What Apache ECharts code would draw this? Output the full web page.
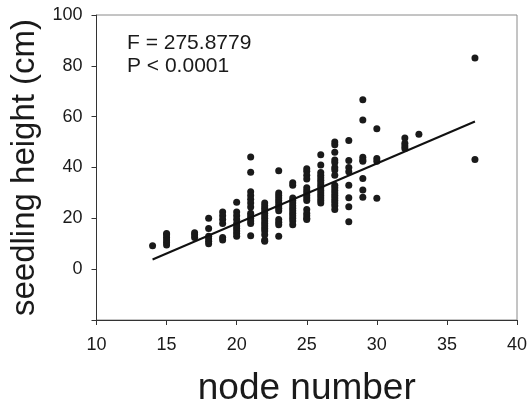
<!DOCTYPE html>
<html>
<head>
<meta charset="utf-8">
<script src="https://cdn.jsdelivr.net/npm/echarts@6/dist/echarts.min.js"></script>
<style>html,body{margin:0;padding:0;background:#fff}#c{width:528px;height:404px}</style>
</head>
<body>
<div id="c"></div>
<script>
// node numbers (x) and the seedling heights observed at each
const nodeNumbers = [14, 15, 17, 18, 19, 20, 21, 22, 23, 24, 25, 26, 27, 28, 29, 30, 32, 33, 37];
const heights14 = [9.2];
const heights15 = [9.5, 10.5, 11.5, 12.5, 13.5, 14];
const heights17 = [12.5, 13.5, 14.3];
const heights18 = [20, 16, 13, 12, 11, 10];
const heights19 = [22.5, 21, 19.5, 18, 12.5, 11.5];
const heights20 = [26.3, 22.5, 21, 19.5, 18, 17, 16, 15, 14, 13];
const heights21 = [44.1, 38.1, 30.5, 29, 27.5, 26, 24.5, 22, 21, 20, 19, 18, 13.1];
const heights22 = [26, 25, 24, 23, 22, 21, 20, 19, 18, 17, 16, 15, 13.5, 11.5, 11];
const heights23 = [38.7, 30, 29, 28, 27, 26, 25, 24, 23, 19.5, 18.5, 17.5, 13];
const heights24 = [34, 33, 28, 27, 26, 25, 24, 23, 22, 21, 20, 19, 17.5];
const heights25 = [39.5, 38.5, 37, 35.5, 32, 31, 30, 29, 28, 27, 23.5, 22, 21, 20, 19.5];
const heights26 = [45, 41, 38, 37, 36, 35, 34, 33, 32, 31, 30, 29, 28, 27, 26];
const heights27 = [50, 49, 46, 43, 42, 40, 39, 37, 33, 32, 31, 30, 29, 28, 27, 26, 25, 23.5];
const heights28 = [50.6, 42.8, 40, 38.3, 33, 28.1, 24.6, 18.7];
const heights29 = [66.7, 58.7, 44, 43, 42.5, 35.7, 31.1, 28.3];
const heights30 = [55.2, 43.5, 42.5, 27.9];
const heights32 = [51.6, 49.5, 48.5, 47.5];
const heights33 = [53.1];
const heights37 = [83.1, 43.1];
const heightsByNode = [heights14, heights15, heights17, heights18, heights19, heights20, heights21,
  heights22, heights23, heights24, heights25, heights26, heights27, heights28, heights29,
  heights30, heights32, heights33, heights37];

// fitted regression line end points
const fitNodes = [14, 37];
const fitHeights = [3.8, 58.1];

// tick values
const xTicks = [10, 15, 20, 25, 30, 35, 40];
const yTicks = [-20, 0, 20, 40, 60, 80, 100];

const statLines = ['F = 275.8779', 'P < 0.0001'];

const points = [];
nodeNumbers.forEach((n, i) => heightsByNode[i].forEach(h => points.push([n, h])));
const fitLine = fitNodes.map((n, i) => [n, fitHeights[i]]);

const chart = echarts.init(document.getElementById('c'), null, {renderer: 'canvas'});
const FONT = 'Liberation Sans, Arial, sans-serif';
chart.setOption({
  animation: false,
  backgroundColor: '#fff',
  grid: {left: 96.5, right: 11, top: 15, bottom: 84, containLabel: false, outerBoundsMode: 'none',
    show: true, borderColor: '#8a8a8a', borderWidth: 1, backgroundColor: 'transparent'},
  xAxis: {
    type: 'value', min: xTicks[0], max: xTicks[xTicks.length - 1], interval: 5,
    name: 'node number', nameLocation: 'middle', nameGap: 50,
    nameTextStyle: {fontFamily: FONT, fontSize: 37, color: '#1a1a1a'},
    axisLine: {show: true, onZero: false, lineStyle: {color: '#333', width: 1}},
    axisTick: {show: true, inside: false, length: 5, lineStyle: {color: '#333'}},
    axisLabel: {fontFamily: FONT, fontSize: 18, color: '#1a1a1a', margin: 16},
    splitLine: {show: false}
  },
  yAxis: {
    type: 'value', min: yTicks[0], max: yTicks[yTicks.length - 1], interval: 20,
    name: 'seedling height (cm)', nameLocation: 'middle', nameGap: 50,
    nameTextStyle: {fontFamily: FONT, fontSize: 33, color: '#1a1a1a'},
    axisLine: {show: true, onZero: false, lineStyle: {color: '#333', width: 1}},
    axisTick: {show: true, inside: false, length: 5, lineStyle: {color: '#333'}},
    axisLabel: {fontFamily: FONT, fontSize: 18, color: '#1a1a1a', margin: 14,
      formatter: v => (v === yTicks[0] ? '' : String(v))},
    splitLine: {show: false}
  },
  graphic: [{
    type: 'text', left: 127, top: 31,
    style: {text: statLines.join('\n'), font: '21px ' + FONT, fill: '#1a1a1a', lineHeight: 23.5}
  }],
  series: [
    {type: 'scatter', data: points, symbol: 'circle', symbolSize: 7,
     itemStyle: {color: '#1a1a1a', opacity: 1}, z: 3},
    {type: 'line', data: fitLine, symbol: 'none', lineStyle: {color: '#111', width: 2}, z: 4}
  ]
});
</script>
</body>
</html>
